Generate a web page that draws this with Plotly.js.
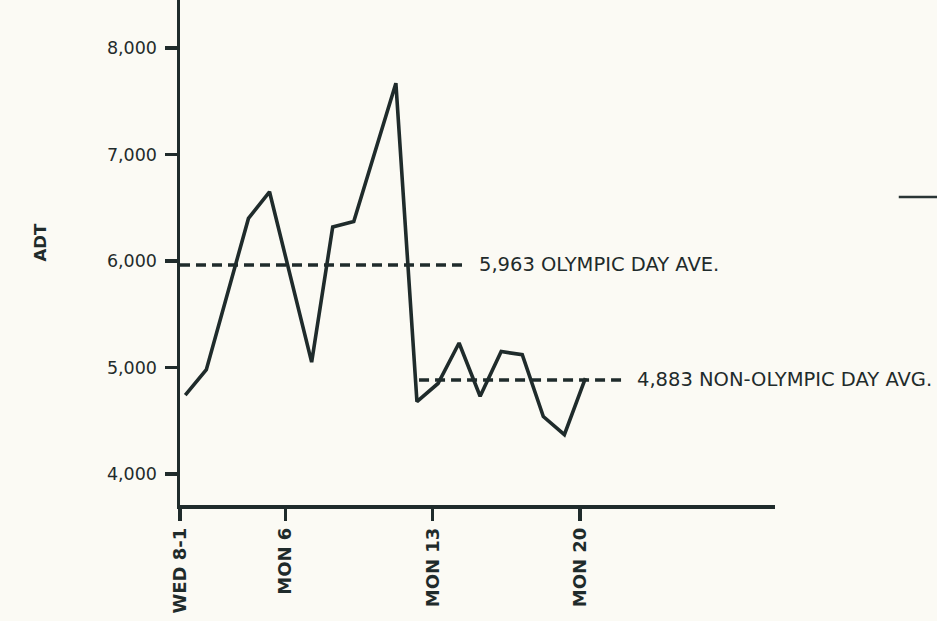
<!DOCTYPE html>
<html>
<head>
<meta charset="utf-8">
<script src="https://cdn.plot.ly/plotly-3.0.1.min.js"></script>
<style>html,body{margin:0;padding:0;background:#fbfaf4;}#chart{width:937px;height:621px;}</style>
</head>
<body>
<div id="chart"></div>
<script>
// Day index (0 = Wed Aug 1) and average daily traffic
const days = [0, 1, 3, 4, 6, 7, 8, 10, 11, 12, 13, 14, 15, 16, 17, 18, 19];
const adt  = [4740, 4980, 6400, 6650, 5050, 6320, 6370, 7670, 4680, 4850, 5230, 4730, 5150, 5120, 4540, 4370, 4900];

const tickDays   = [0, 5, 12, 19];
const tickLabels = ["WED 8-1", "MON 6", "MON 13", "MON 20"];

const olympicAvg = 5963;
const olympicSpan = [-0.25, 13.3];
const olympicLabel = "5,963 OLYMPIC DAY AVE.";
const nonOlympicAvg = 4883;
const nonOlympicSpan = [11.1, 20.85];
const nonOlympicLabel = "4,883 NON-OLYMPIC DAY AVG.";

const ink = "#1f2b2b";
const fam = "DejaVu Sans, Liberation Sans, Arial, sans-serif";
const tickShift = -0.25;

const traces = [
  {x: olympicSpan, y: [olympicAvg, olympicAvg], mode: "lines",
   line: {color: ink, width: 3.5, dash: "10px,6px"}, hoverinfo: "skip"},
  {x: nonOlympicSpan, y: [nonOlympicAvg, nonOlympicAvg], mode: "lines",
   line: {color: ink, width: 3.5, dash: "10px,6px"}, hoverinfo: "skip"},
  {x: days, y: adt, mode: "lines", line: {color: ink, width: 3.6}}
];

const layout = {
  width: 937, height: 621,
  paper_bgcolor: "#fbfaf4", plot_bgcolor: "#fbfaf4",
  showlegend: false,
  margin: {l: 180, r: 162, t: 0, b: 116},
  font: {family: fam, color: ink, size: 17},
  xaxis: {
    range: [-0.25, 28.0],
    tickvals: tickDays.map(d => d + tickShift),
    ticktext: tickLabels,
    tickangle: -90,
    ticks: "outside", ticklen: 12, tickwidth: 3.5, tickcolor: ink,
    ticklabelstandoff: 0,
    showline: true, linewidth: 3.5, linecolor: ink,
    showgrid: false, zeroline: false,
    tickfont: {size: 18, family: fam, weight: "bold"}
  },
  yaxis: {
    range: [3709, 8451],
    tickvals: [4000, 5000, 6000, 7000, 8000],
    tickformat: ",d",
    ticks: "outside", ticklen: 12, tickwidth: 3.5, tickcolor: ink,
    ticklabelstandoff: 4,
    showline: true, linewidth: 3.5, linecolor: ink,
    showgrid: false, zeroline: false,
    tickfont: {size: 17.5, family: fam}
  },
  annotations: [
    {x: olympicSpan[1], y: olympicAvg, xref: "x", yref: "y", text: olympicLabel,
     showarrow: false, xanchor: "left", xshift: 12, font: {size: 19.5, color: ink, family: fam}},
    {x: nonOlympicSpan[1], y: nonOlympicAvg, xref: "x", yref: "y", text: nonOlympicLabel,
     showarrow: false, xanchor: "left", xshift: 11, font: {size: 19.5, color: ink, family: fam}},
    {x: -0.235, y: 0.52, xref: "paper", yref: "paper", text: "<b>ADT</b>", textangle: -90,
     showarrow: false, xanchor: "center", yanchor: "middle", font: {size: 16.5, color: ink, family: fam}}
  ],
  shapes: [
    {type: "line", xref: "paper", yref: "paper", x0: 1.208, x1: 1.28, y0: 0.61, y1: 0.61,
     line: {color: "#2a3535", width: 2.5}}
  ]
};

Plotly.newPlot("chart", traces, layout, {staticPlot: true, displayModeBar: false});
</script>
</body>
</html>
